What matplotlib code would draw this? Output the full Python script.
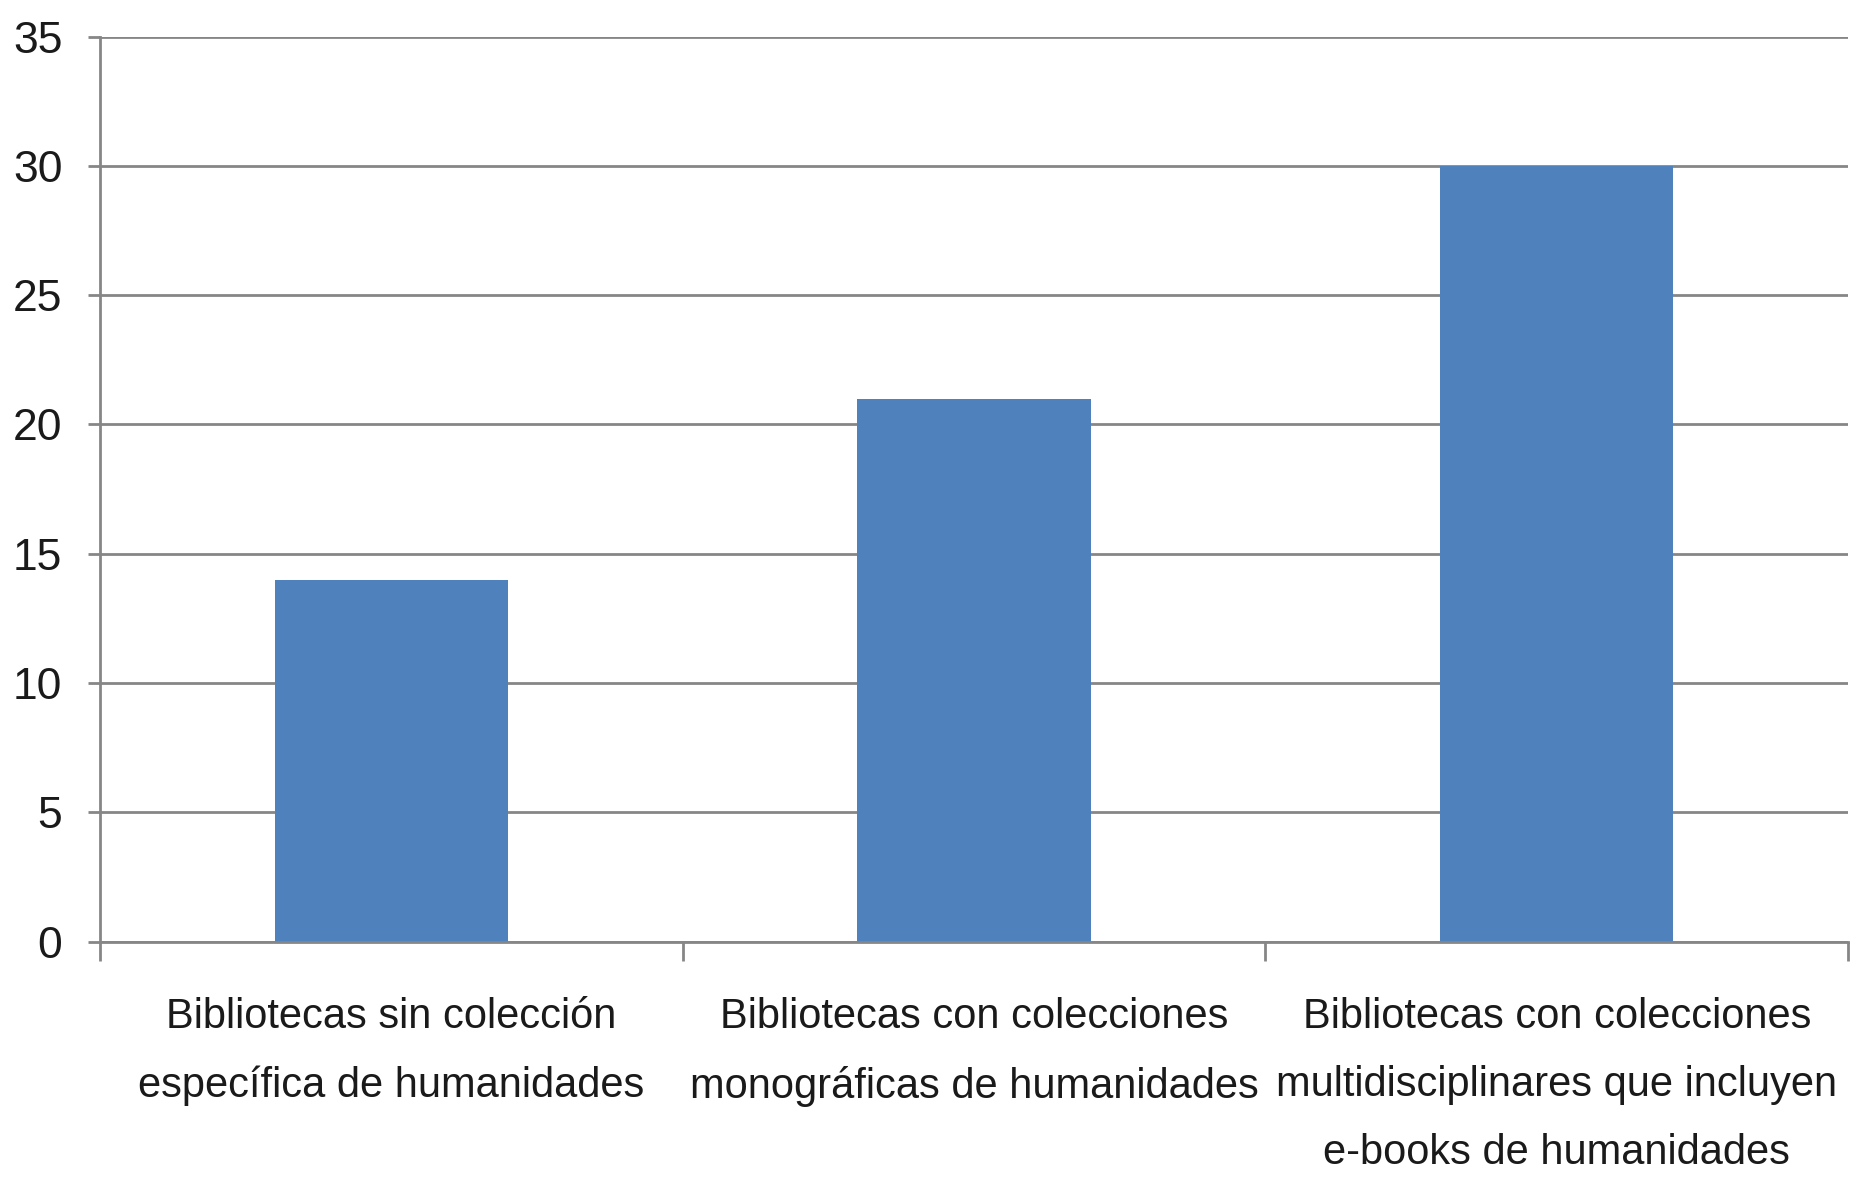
import matplotlib
matplotlib.use("Agg")
import matplotlib.pyplot as plt
from matplotlib.ticker import FixedLocator

# data
categories = [
    "Bibliotecas sin colección\nespecífica de humanidades",
    "Bibliotecas con colecciones\nmonográficas de humanidades",
    "Bibliotecas con colecciones\nmultidisciplinares que incluyen\ne-books de humanidades",
]
values = [14, 21, 30]
y_ticks = [0, 5, 10, 15, 20, 25, 30, 35]

plt.rcParams["font.family"] = ["Liberation Sans", "DejaVu Sans"]

GRID = "#868686"
BAR = "#4F81BD"

fig = plt.figure(figsize=(18.5, 11.8), dpi=100)
ax = fig.add_axes([0.054, 0.202, 0.945, 0.767])

x = list(range(len(categories)))
ax.bar(x, values, width=0.4, color=BAR, zorder=3)

ax.set_xlim(-0.5, len(categories) - 0.5)
ax.set_ylim(0, 35)
ax.set_yticks(y_ticks)
ax.set_yticklabels([str(v) for v in y_ticks], fontsize=32, color="#1a1a1a")
ax.yaxis.grid(True, color=GRID, linewidth=2, zorder=1)

ax.set_xticks(x)
ax.set_xticklabels(categories, fontsize=30, color="#1a1a1a", linespacing=1.9)
ax.tick_params(axis="x", which="major", length=0, pad=40)
ax.xaxis.set_minor_locator(FixedLocator([i - 0.5 for i in range(len(categories) + 1)]))
ax.tick_params(axis="x", which="minor", length=14, width=2, color=GRID, direction="out")
ax.tick_params(axis="y", length=9, width=2, color=GRID, pad=18)

for side in ("top", "right"):
    ax.spines[side].set_visible(False)
for side in ("left", "bottom"):
    ax.spines[side].set_color(GRID)
    ax.spines[side].set_linewidth(2)
    ax.spines[side].set_zorder(4)

fig.savefig("out.png", dpi=100)
